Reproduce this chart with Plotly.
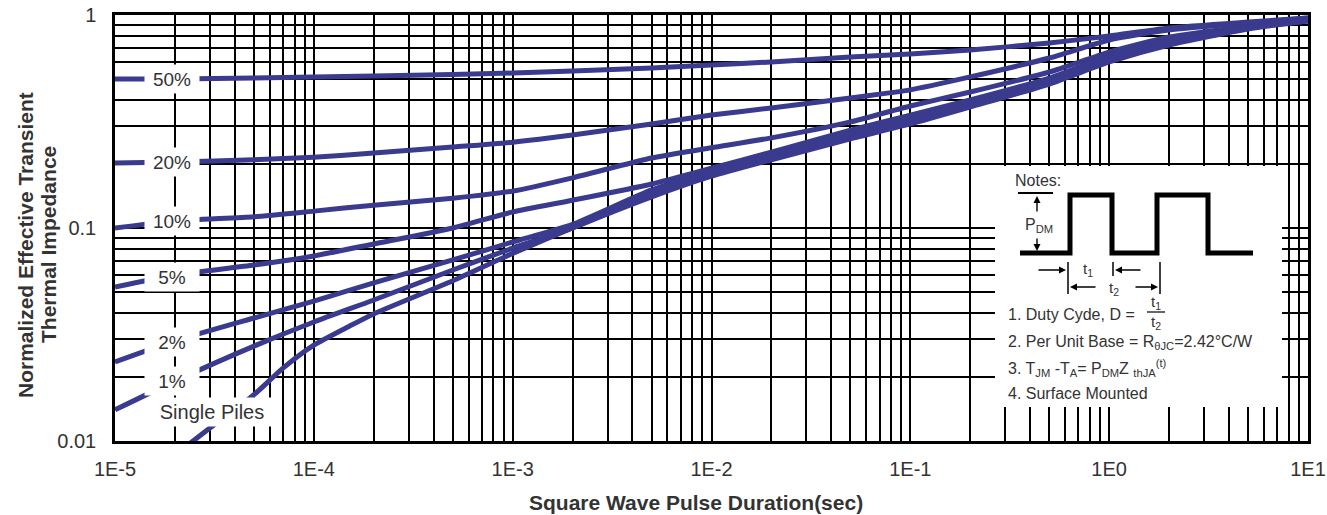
import math
import plotly.graph_objects as go

# ---------------- data ----------------
pulse_duration = [1e-5, 2e-5, 5e-5, 1e-4, 2e-4, 5e-4, 1e-3, 2e-3, 5e-3, 1e-2,
                  2e-2, 5e-2, 1e-1, 2e-1, 5e-1, 1, 2, 5, 10]

z_50 = [0.501, 0.501, 0.506, 0.512, 0.517, 0.526, 0.534, 0.546, 0.564, 0.583,
        0.602, 0.635, 0.656, 0.685, 0.739, 0.797, 0.869, 0.927, 0.968]
z_20 = [0.202, 0.204, 0.209, 0.215, 0.225, 0.240, 0.253, 0.273, 0.308, 0.339,
        0.366, 0.408, 0.445, 0.512, 0.628, 0.763, 0.850, 0.917, 0.968]
z_10 = [0.100, 0.108, 0.113, 0.120, 0.128, 0.138, 0.149, 0.172, 0.213, 0.238,
        0.265, 0.315, 0.374, 0.435, 0.540, 0.670, 0.788, 0.888, 0.958]
z_5 = [0.0528, 0.0602, 0.0670, 0.0739, 0.0841, 0.100, 0.119, 0.135, 0.161, 0.191,
       0.227, 0.288, 0.339, 0.399, 0.506, 0.642, 0.763, 0.878, 0.947]
z_2 = [0.0235, 0.0295, 0.0378, 0.0454, 0.0552, 0.0708, 0.0860, 0.104, 0.151, 0.185,
       0.220, 0.279, 0.328, 0.386, 0.495, 0.628, 0.747, 0.869, 0.947]
z_1 = [0.0140, 0.0191, 0.0279, 0.0362, 0.0459, 0.0635, 0.0805, 0.100, 0.146, 0.181,
       0.215, 0.270, 0.318, 0.378, 0.485, 0.615, 0.739, 0.869, 0.937]

single_duration = [2e-5, 3e-5, 5e-5, 7e-5, 1e-4, 1.5e-4, 2e-4, 5e-4, 1e-3, 2e-3, 5e-3,
                   1e-2, 2e-2, 5e-2, 1e-1, 2e-1, 5e-1, 1, 2, 5, 10]
z_single = [0.0086, 0.0115, 0.0165, 0.0220, 0.0282, 0.0345, 0.0395, 0.0565, 0.0760,
            0.100, 0.140, 0.175, 0.209, 0.262, 0.308, 0.370, 0.474, 0.602, 0.723,
            0.860, 0.937]

curve_labels = ["50%", "20%", "10%", "5%", "2%", "1%", "Single Piles"]
label_x = [1.93e-5, 1.93e-5, 1.93e-5, 1.93e-5, 1.93e-5, 1.93e-5, 3.07e-5]
label_y = [0.50, 0.204, 0.108, 0.059, 0.0292, 0.0191, 0.0137]

x_tick_values = [1e-5, 1e-4, 1e-3, 1e-2, 1e-1, 1, 10]
x_tick_labels = ["1E-5", "1E-4", "1E-3", "1E-2", "1E-1", "1E0", "1E1"]
y_tick_values = [0.01, 0.1, 1]
y_tick_labels = ["0.01", "0.1", "1"]

# ---------------- styling ----------------
W, H = 1327, 515
ML, MR, MT, MB = 115, 19, 15, 74
PW, PH = W - ML - MR, H - MT - MB
CURVE = "rgb(58,58,142)"
TXT = "#333333"
FONT = "Liberation Sans, Arial, sans-serif"


def PX(x):
    return (x - ML) / PW


def PY(y):
    return (MT + PH - y) / PH


def grid_vals(lo, hi):
    vals = []
    for k in range(lo, hi):
        for m in range(1, 10):
            vals.append(m * 10 ** k)
    vals.append(10 ** hi)
    return vals


def tick_text(vals, majors, labels):
    out = []
    for v in vals:
        lab = ""
        for mv, ml in zip(majors, labels):
            if abs(math.log10(v) - math.log10(mv)) < 1e-9:
                lab = ml
        out.append(lab)
    return out


xg = grid_vals(-5, 1)
yg = grid_vals(-2, 0)

fig = go.Figure()
for ys in [z_50, z_20, z_10, z_5, z_2, z_1]:
    fig.add_trace(go.Scatter(x=pulse_duration, y=ys, mode="lines",
                             line=dict(color=CURVE, width=5, shape="spline", smoothing=0.6),
                             hoverinfo="skip"))
fig.add_trace(go.Scatter(x=single_duration, y=z_single, mode="lines",
                         line=dict(color=CURVE, width=5, shape="spline", smoothing=0.6),
                         hoverinfo="skip"))

annotations = []
for lab, lx, ly in zip(curve_labels, label_x, label_y):
    big = len(lab) > 4
    annotations.append(dict(x=math.log10(lx), y=math.log10(ly), xref="x", yref="y",
                            text=lab, showarrow=False, bgcolor="white",
                            xanchor="center", yanchor="middle",
                            width=128 if big else 52, height=26,
                            font=dict(size=20 if big else 19, color=TXT, family=FONT)))

# axis titles
annotations.append(dict(x=PX(696), y=PY(502), xref="paper", yref="paper",
                        xanchor="center", yanchor="middle",
                        text="<b>Square Wave Pulse Duration(sec)</b>", showarrow=False,
                        font=dict(size=21, color=TXT, family=FONT)))
for tx, cx in [("<b>Normalized Effective Transient</b>", 25),
               ("<b>Thermal Impedance</b>", 48)]:
    annotations.append(dict(x=PX(cx), y=PY(245), xref="paper", yref="paper",
                            xanchor="center", yanchor="middle",
                            text=tx, textangle=-90, showarrow=False,
                            font=dict(size=21, color=TXT, family=FONT)))

# notes text
def note(x, y, text, size=16, anchor="left"):
    annotations.append(dict(x=PX(x), y=PY(y), xref="paper", yref="paper", text=text,
                            showarrow=False, xanchor=anchor, yanchor="middle",
                            font=dict(size=size, color=TXT, family=FONT)))


note(1013, 180, "Notes:")
note(1039, 225, "P<sub>DM</sub>", anchor="center")
note(1088, 269, "t<sub>1</sub>", size=15, anchor="center")
note(1114, 288, "t<sub>2</sub>", size=15, anchor="center")
note(1006, 314, "1. Duty Cyde, D =")
note(1156, 302, "t<sub>1</sub>", size=15, anchor="center")
note(1156, 322, "t<sub>2</sub>", size=15, anchor="center")
note(1006, 342, "2. Per Unit Base = R<sub>θJC</sub>=2.42°C/W")
note(1006, 368, "3. T<sub>JM</sub> -T<sub>A</sub>= P<sub>DM</sub>Z <sub>thJA</sub><sup>(t)</sup>")
note(1006, 393, "4. Surface Mounted")


def arrow(hx, hy, tx, ty):
    annotations.append(dict(x=PX(hx), y=PY(hy), xref="paper", yref="paper", text="",
                            showarrow=True, ax=tx - hx, ay=ty - hy, arrowhead=2,
                            arrowsize=1, arrowwidth=1.4, arrowcolor="black"))


arrow(1037, 196, 1037, 213)
arrow(1037, 251, 1037, 237)
arrow(1066, 270, 1037, 270)
arrow(1115, 270, 1142, 270)
arrow(1070, 287, 1097, 287)
arrow(1158, 287, 1134, 287)

shapes = []
# white notes panel
shapes.append(dict(type="rect", xref="paper", yref="paper", x0=PX(995), x1=PX(1282),
                   y0=PY(407), y1=PY(166), fillcolor="white", line=dict(width=0), layer="above"))
# square wave
pts = [(1020, 253), (1070, 253), (1070, 195), (1112, 195), (1112, 253), (1157, 253),
       (1157, 195), (1208, 195), (1208, 253), (1253, 253)]
path = "M " + " L ".join(f"{PX(a):.5f},{PY(b):.5f}" for a, b in pts)
shapes.append(dict(type="path", xref="paper", yref="paper", path=path,
                   line=dict(color="black", width=5), layer="above"))


def seg(x0, y0, x1, y1, w=1.5):
    shapes.append(dict(type="line", xref="paper", yref="paper", x0=PX(x0), y0=PY(y0),
                       x1=PX(x1), y1=PY(y1), line=dict(color="black", width=w), layer="above"))


seg(1018, 193, 1053, 193, 2)
seg(1068, 262, 1068, 294)
seg(1113, 262, 1113, 276)
seg(1160, 262, 1160, 294)
seg(1147, 312, 1165, 312, 1.2)

axis_common = dict(type="log", showgrid=True, gridcolor="black", gridwidth=2,
                   showline=True, mirror=True, linecolor="black", linewidth=2.5,
                   ticks="", zeroline=False, automargin=False,
                   tickfont=dict(size=20, color=TXT, family=FONT))

fig.update_layout(
    width=W, height=H, autosize=False,
    margin=dict(l=ML, r=MR, t=MT, b=MB, pad=0),
    paper_bgcolor="white", plot_bgcolor="white",
    showlegend=False,
    xaxis=dict(range=[-5, 1], tickmode="array", tickvals=xg,
               ticktext=tick_text(xg, x_tick_values, x_tick_labels),
               ticklabelstandoff=8, **axis_common),
    yaxis=dict(range=[-2, 0], tickmode="array", tickvals=yg,
               ticktext=tick_text(yg, y_tick_values, y_tick_labels),
               ticklabelstandoff=12, **axis_common),
    annotations=annotations,
    shapes=shapes,
)

fig.write_html(
    "out.html",
    config={"displayModeBar": False},
    post_script=("document.body.style.margin='0';document.body.style.padding='0';"
                 "document.documentElement.style.overflow='hidden';"),
)
